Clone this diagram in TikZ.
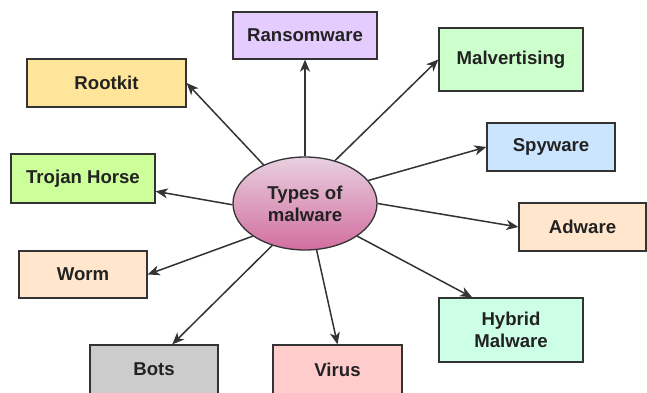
\documentclass[tikz,border=0pt]{standalone}
\usepackage{fontspec}
\setmainfont{Liberation Sans}
\usetikzlibrary{arrows.meta,shapes.geometric,calc}
\definecolor{strk}{HTML}{333333}
\definecolor{txt}{HTML}{222222}
\tikzset{
  box/.style={draw=strk, line width=1.3pt, minimum width=#1, inner sep=0pt, text=txt,
    font=\fontsize{18.6}{22}\selectfont\bfseries, align=center},
  conn/.style={draw=strk, line width=1.5pt, -{Stealth[length=12pt,width=10pt,inset=3.5pt]}}
}
\begin{document}
\begin{tikzpicture}[x=1pt,y=-1pt]
\useasboundingbox (0,0) rectangle (647,393);
\fill[white] (0,0) rectangle (647,393);
\node[box=144pt, minimum height=47pt, fill={rgb,255:red,229;green,204;blue,255}] (rans) at (305,35.5) {Ransomware};
\node[box=159pt, minimum height=48pt, fill={rgb,255:red,255;green,229;blue,153}] (root) at (106.5,83) {Rootkit};
\node[box=144pt, minimum height=49pt, fill={rgb,255:red,204;green,255;blue,153}] (troj) at (83,178.5) {Trojan Horse};
\node[box=144pt, minimum height=63pt, fill={rgb,255:red,204;green,255;blue,204}] (malv) at (511,59.5) {Malvertising};
\node[box=128pt, minimum height=48pt, fill={rgb,255:red,204;green,229;blue,255}] (spy) at (551,147) {Spyware};
\node[box=127pt, minimum height=48pt, fill={rgb,255:red,255;green,230;blue,204}] (adw) at (582.5,227) {Adware};
\node[box=144pt, minimum height=64pt, fill={rgb,255:red,204;green,255;blue,230}] (hyb) at (511,330) {Hybrid\\Malware};
\node[box=129pt, minimum height=49pt, fill={rgb,255:red,255;green,204;blue,204}] (vir) at (337.5,369.5) {Virus};
\node[box=128pt, minimum height=49pt, fill={rgb,255:red,204;green,204;blue,204}] (bots) at (154,369.5) {Bots};
\node[box=128pt, minimum height=47pt, fill={rgb,255:red,255;green,230;blue,204}] (worm) at (83,274.5) {Worm};
\node[ellipse, draw=strk, line width=1.3pt, minimum width=144pt, minimum height=93pt, inner sep=0pt,
  top color={rgb,255:red,232;green,208;blue,224}, bottom color={rgb,255:red,210;green,110;blue,158},
  text=txt, font=\fontsize{18.6}{22}\selectfont\bfseries, align=center] (c) at (305,203.5) {Types of\\malware};
\draw[conn] (c.90) -- (rans.south);
\draw[conn] (c.137) -- (root.east);
\draw[conn] (c.181.5) -- (troj.-10);
\draw[conn] (c.55.4) -- (malv.west);
\draw[conn] (c.20.8) -- (spy.west);
\draw[conn] (c.0) -- (adw.west);
\draw[conn] (c.-32.8) -- (hyb.140);
\draw[conn] (c.-76) -- (vir.north);
\draw[conn] (c.232.4) -- (bots.54);
\draw[conn] (c.212.3) -- (worm.east);
\end{tikzpicture}
\end{document}
